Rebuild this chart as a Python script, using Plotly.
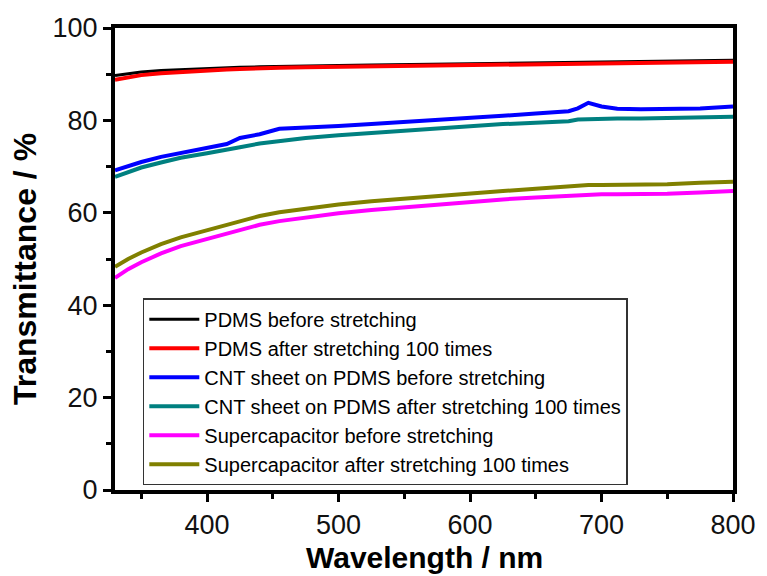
import plotly.graph_objects as go

wavelength = [330, 340, 350, 365, 380, 400, 415, 425, 440, 455, 475, 500, 525, 550,
              575, 600, 625, 650, 675, 682, 690, 700, 712, 730, 750, 775, 800]

pdms_before = [89.7, 90.1, 90.5, 90.8, 91.0, 91.2, 91.4, 91.5, 91.6, 91.7, 91.8, 91.9, 92.0, 92.1,
               92.2, 92.3, 92.4, 92.5, 92.6, 92.6, 92.7, 92.7, 92.8, 92.8, 92.9, 93.0, 93.0]
pdms_after = [88.8, 89.3, 89.8, 90.2, 90.5, 90.8, 91.0, 91.1, 91.3, 91.4, 91.5, 91.6, 91.7, 91.8,
              91.9, 92.0, 92.1, 92.2, 92.3, 92.3, 92.4, 92.4, 92.5, 92.5, 92.6, 92.7, 92.7]
cnt_before = [69.2, 70.2, 71.0, 72.1, 73.0, 74.2, 74.9, 76.2, 77.0, 78.2, 78.4, 78.8, 79.2, 79.6,
              80.0, 80.5, 81.0, 81.5, 82.0, 82.6, 83.8, 83.0, 82.5, 82.4, 82.4, 82.6, 83.0]
cnt_after = [67.8, 68.9, 69.8, 70.9, 71.9, 72.9, 73.6, 74.2, 75.0, 75.6, 76.2, 76.8, 77.3, 77.9,
             78.4, 78.8, 79.2, 79.5, 79.8, 80.2, 80.3, 80.4, 80.4, 80.4, 80.5, 80.7, 80.8]
sc_before = [45.9, 47.8, 49.3, 51.2, 52.8, 54.4, 55.6, 56.3, 57.4, 58.2, 59.0, 59.9, 60.6, 61.2,
             61.8, 62.4, 62.9, 63.3, 63.7, 63.9, 64.0, 64.0, 64.0, 64.0, 64.1, 64.4, 64.7]
sc_after = [48.3, 50.0, 51.4, 53.2, 54.7, 56.3, 57.4, 58.2, 59.3, 60.1, 60.9, 61.8, 62.5, 63.1,
            63.7, 64.2, 64.7, 65.2, 65.7, 65.9, 66.0, 66.0, 66.0, 66.0, 66.2, 66.5, 66.7]

names = ["PDMS before stretching",
         "PDMS after stretching 100 times",
         "CNT sheet on PDMS before stretching",
         "CNT sheet on PDMS after stretching 100 times",
         "Supercapacitor before stretching",
         "Supercapacitor after stretching 100 times"]
series = [pdms_before, pdms_after, cnt_before, cnt_after, sc_before, sc_after]
colors = ["#000000", "#FF0000", "#0000FF", "#008080", "#FF00FF", "#808000"]
widths = [3, 4, 4, 4, 4, 4]

FONT = "Liberation Sans"

fig = go.Figure()
for n, s, c, w in zip(names, series, colors, widths):
    fig.add_trace(go.Scatter(x=wavelength, y=s, mode="lines", name=n,
                             line=dict(color=c, width=w)))

axis_common = dict(showline=True, linecolor="black", linewidth=4, mirror=True,
                   ticks="outside", ticklen=8, tickwidth=3, tickcolor="black",
                   showgrid=False, zeroline=False,
                   tickfont=dict(family=FONT, size=27, color="#111111"))

fig.update_xaxes(range=[330, 800], tickvals=[400, 500, 600, 700, 800],
                 minor=dict(ticks="outside", ticklen=5, tickwidth=3, tickcolor="black",
                            tickvals=[350, 450, 550, 650, 750], showgrid=False),
                 ticklabelstandoff=0,
                 **axis_common)
fig.update_yaxes(range=[0, 100], tickvals=[0, 20, 40, 60, 80, 100],
                 minor=dict(ticks="outside", ticklen=5, tickwidth=3, tickcolor="black",
                            tickvals=[10, 30, 50, 70, 90], showgrid=False),
                 **axis_common)

fig.update_layout(
    width=767, height=576,
    margin=dict(l=115, r=34, t=28, b=86),
    paper_bgcolor="white", plot_bgcolor="white",
    font=dict(family=FONT, color="black"),
    legend=dict(x=0.045, y=0.415, xanchor="left", yanchor="top",
                bgcolor="white", bordercolor="#333333", borderwidth=1.5,
                font=dict(family=FONT, size=20, color="black"),
                tracegroupgap=0, itemwidth=50),
    annotations=[
        dict(text="<b>Wavelength / nm</b>", xref="paper", yref="paper", x=0.5, y=0,
             xanchor="center", yanchor="middle", yshift=-67, showarrow=False,
             font=dict(family=FONT, size=30, color="black")),
        dict(text="<b>Transmittance / %</b>", xref="paper", yref="paper", x=0, y=0.5,
             xanchor="center", yanchor="middle", xshift=-90, yshift=-10, textangle=-90,
             showarrow=False,
             font=dict(family=FONT, size=32, color="black")),
    ],
)

fig.write_html("out.html")
